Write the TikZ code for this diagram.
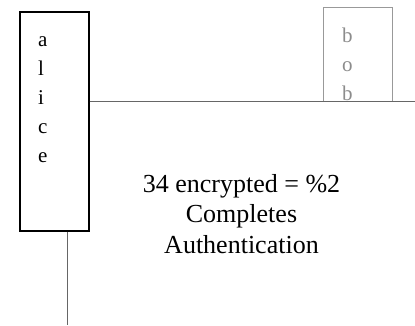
\documentclass[tikz,border=0pt]{standalone}
\usepackage{fontspec}
\setmainfont{Liberation Serif}
\usepackage{tikz}
\usetikzlibrary{positioning}

\begin{document}
\begin{tikzpicture}[x=1pt, y=-1pt, inner sep=0pt,
    actor/.style={draw, minimum width=69pt},
    letters/.style={align=left, font=\fontsize{21}{29}\selectfont},
    life/.style={draw=black!60, line width=0.8pt}]
        \useasboundingbox (0,0) rectangle (415,325);

        % Actors
        \node[actor, line width=1.2pt, minimum height=219pt] (alice) at (54.5,121.5) {};
        \node[actor, draw=black!40, line width=0.9pt, minimum height=94pt] (bob) at (357.5,54) {};
        \node[letters, anchor=base west] (alicename) at (38,162) {a\\l\\i\\c\\e};
        \node[letters, anchor=base west, text=black!45] (bobname) at (342,100) {b\\o\\b};

        % Lifelines
        \coordinate (alicelow) at (67,325);
        \coordinate (bobright) at (415,101);
        \draw[life] (alice.east |- bobright) -- (bobright);
        \draw[life] (alice.south -| alicelow) -- (alicelow);

        % Message
        \node[align=center, anchor=base, font=\fontsize{26}{30.5}\selectfont] (msg) at (241.5,253) {34 encrypted = \%2\\Completes\\Authentication};
    \end{tikzpicture}
\end{document}
